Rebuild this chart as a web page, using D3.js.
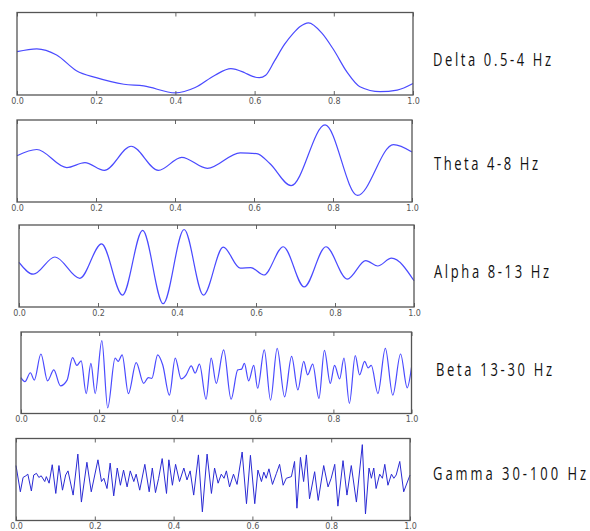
<!DOCTYPE html>
<html>
<head>
<meta charset="utf-8">
<title>EEG bands</title>
<script src="https://cdn.jsdelivr.net/npm/d3@7"></script>
<style>
  body { margin: 0; background: #fff; }
  .tick text { font-family: "DejaVu Sans", sans-serif; font-size: 8px; fill: #555; }
  .tick line { stroke: #666; }
  .band-label { font-family: "Open Sans", sans-serif; font-size: 18px; fill: #111; }
</style>
</head>
<body>
<script>
// time (s) and normalised amplitude
var deltaT = [0, 0.05, 0.10, 0.15, 0.20, 0.27, 0.32, 0.40, 0.45, 0.50, 0.54, 0.575, 0.595, 0.612, 0.628, 0.65, 0.675, 0.698, 0.715, 0.736, 0.77, 0.80, 0.833, 0.866, 0.917, 0.96, 1.0];
var deltaV = [0.05, 0.12, -0.03, -0.41, -0.58, -0.74, -0.78, -0.95, -0.82, -0.52, -0.36, -0.46, -0.55, -0.58, -0.52, -0.18, 0.22, 0.50, 0.66, 0.75, 0.50, 0.09, -0.44, -0.80, -0.92, -0.88, -0.72];

var thetaT = [0, 0.05, 0.126, 0.172, 0.221, 0.289, 0.358, 0.417, 0.482, 0.565, 0.607, 0.64, 0.694, 0.78, 0.862, 0.953, 1.0];
var thetaV = [0.13, 0.28, -0.16, -0.04, -0.23, 0.36, -0.23, 0.09, -0.18, 0.20, 0.18, -0.06, -0.60, 0.88, -0.84, 0.40, 0.22];

var alphaT = [0, 0.036, 0.091, 0.154, 0.209, 0.262, 0.313, 0.365, 0.418, 0.467, 0.517, 0.56, 0.587, 0.62, 0.669, 0.722, 0.777, 0.831, 0.878, 0.908, 0.943, 1.0];
var alphaV = [0.09, -0.20, 0.22, -0.30, 0.54, -0.71, 0.87, -0.92, 0.89, -0.71, 0.46, -0.05, -0.04, -0.22, 0.47, -0.51, 0.47, -0.32, 0.13, 0.00, 0.19, -0.36];

var betaT = [0, 0.010, 0.024, 0.034, 0.051, 0.068, 0.084, 0.101, 0.118, 0.132, 0.143, 0.154, 0.167, 0.179, 0.190, 0.207, 0.222, 0.241, 0.249, 0.259, 0.275, 0.295, 0.314, 0.326, 0.335, 0.350, 0.363, 0.380, 0.395, 0.410, 0.423, 0.436, 0.446, 0.457, 0.474, 0.487, 0.500, 0.519, 0.538, 0.555, 0.565, 0.572, 0.583, 0.596, 0.606, 0.623, 0.639, 0.656, 0.675, 0.693, 0.709, 0.724, 0.734, 0.747, 0.763, 0.777, 0.792, 0.803, 0.816, 0.827, 0.841, 0.856, 0.867, 0.880, 0.889, 0.897, 0.914, 0.933, 0.952, 0.972, 0.989, 1.0];
var betaV = [-0.12, -0.22, 0.00, -0.18, 0.46, -0.20, 0.07, -0.32, -0.18, 0.37, 0.18, 0.29, -0.51, 0.23, -0.51, 0.79, -0.86, 0.36, 0.28, 0.44, -0.51, 0.25, -0.26, -0.12, -0.14, 0.44, 0.19, -0.55, 0.36, -0.15, -0.05, 0.17, -0.01, 0.21, -0.65, 0.36, -0.26, 0.56, -0.65, 0.07, 0.09, 0.23, -0.20, 0.18, -0.38, 0.56, -0.67, 0.60, -0.59, 0.40, -0.42, 0.28, -0.05, 0.21, -0.63, 0.55, -0.26, 0.18, -0.15, 0.36, -0.75, 0.42, -0.05, 0.28, 0.12, 0.18, -0.51, 0.60, -0.55, 0.46, -0.37, 0.13];

var gammaT = [0, 0.011, 0.018, 0.025, 0.030, 0.039, 0.045, 0.052, 0.058, 0.064, 0.073, 0.077, 0.084, 0.092, 0.101, 0.109, 0.118, 0.126, 0.132, 0.145, 0.157, 0.166, 0.180, 0.191, 0.208, 0.217, 0.223, 0.231, 0.239, 0.248, 0.257, 0.265, 0.273, 0.282, 0.290, 0.299, 0.305, 0.314, 0.327, 0.338, 0.346, 0.354, 0.362, 0.371, 0.382, 0.388, 0.397, 0.405, 0.415, 0.426, 0.434, 0.442, 0.451, 0.463, 0.473, 0.485, 0.496, 0.504, 0.513, 0.521, 0.528, 0.534, 0.542, 0.552, 0.561, 0.574, 0.585, 0.595, 0.606, 0.614, 0.623, 0.629, 0.635, 0.642, 0.651, 0.661, 0.669, 0.678, 0.686, 0.699, 0.707, 0.713, 0.722, 0.730, 0.737, 0.745, 0.758, 0.767, 0.781, 0.792, 0.800, 0.809, 0.817, 0.830, 0.840, 0.851, 0.864, 0.879, 0.887, 0.896, 0.902, 0.908, 0.914, 0.923, 0.930, 0.936, 0.944, 0.953, 0.959, 0.965, 0.974, 0.984, 1.0];
var gammaV = [0.34, -0.30, 0.05, 0.09, 0.13, -0.28, 0.11, 0.15, 0.05, 0.09, -0.05, 0.07, -0.09, 0.36, -0.34, 0.34, -0.26, 0.11, 0.21, -0.38, 0.62, -0.55, 0.42, -0.30, 0.48, -0.05, 0.03, -0.22, 0.40, -0.40, 0.28, -0.14, 0.23, -0.18, 0.21, -0.05, 0.13, -0.26, 0.37, -0.30, 0.28, -0.32, 0.03, 0.51, -0.34, 0.48, -0.14, 0.37, -0.05, 0.28, -0.01, 0.21, -0.38, 0.60, -0.79, 0.62, -0.34, 0.28, -0.09, 0.13, 0.03, 0.21, -0.18, 0.13, -0.12, 0.67, -0.59, 0.59, -0.59, 0.23, -0.05, 0.18, 0.03, 0.26, -0.12, 0.15, 0.37, -0.14, 0.03, 0.07, 0.44, -0.70, 0.54, -0.05, 0.60, -0.47, 0.19, -0.51, 0.34, -0.18, 0.03, 0.37, -0.65, 0.46, -0.38, 0.34, -0.55, 0.85, -0.84, 0.28, 0.03, 0.28, -0.22, 0.13, 0.03, 0.37, -0.14, 0.13, 0.03, 0.11, 0.44, -0.30, 0.11];

var bandNames = ["Delta 0.5-4 Hz", "Theta 4-8 Hz", "Alpha 8-13 Hz", "Beta 13-30 Hz", "Gamma 30-100 Hz"];
var xTicks = [0, 0.2, 0.4, 0.6, 0.8, 1.0];

var series = [
  { t: deltaT, v: deltaV, smooth: true },
  { t: thetaT, v: thetaV, smooth: true },
  { t: alphaT, v: alphaV, smooth: true },
  { t: betaT, v: betaV, smooth: true },
  { t: gammaT, v: gammaV, smooth: false }
];

// where each panel sits in the picture (they are a bit out of line)
var boxes = [
  { l: 17, r: 413,   t: 12.5, b: 95,    lx: 433, ly: 66,    lw: 118 },
  { l: 17, r: 412,   t: 120,  b: 202,   lx: 434, ly: 170,   lw: 104 },
  { l: 19, r: 414,   t: 225,  b: 307,   lx: 434, ly: 277.5, lw: 115 },
  { l: 21, r: 411.5, t: 332,  b: 413.5, lx: 436, ly: 375.5, lw: 116 },
  { l: 16, r: 410,   t: 438.5, b: 520.5, lx: 433, ly: 480,  lw: 153 }
];
var squeeze = 0.72; // narrow glyphs of the label font

var width = 590, height = 531;

var svg = d3.select("body").append("svg")
  .attr("width", width)
  .attr("height", height);

series.forEach(function(s, i) {
  var box = boxes[i];
  var g = svg.append("g");

  var x = d3.scaleLinear().domain([0, 1]).range([box.l, box.r]);
  var y = d3.scaleLinear().domain([-1, 1]).range([box.b, box.t]);

  var pts = s.t.map(function(t, k) { return [t, s.v[k]]; });

  var line = d3.line()
    .x(function(d) { return x(d[0]); })
    .y(function(d) { return y(d[1]); })
    .curve(s.smooth ? d3.curveMonotoneX : d3.curveLinear);

  g.append("path")
    .datum(pts)
    .attr("fill", "none")
    .attr("stroke", s.smooth ? "#4a4aff" : "#2a2ad4")
    .attr("stroke-width", s.smooth ? 1.2 : 1)
    .attr("stroke-linejoin", "round")
    .attr("d", line);

  var bottom = d3.axisBottom(x).tickValues(xTicks).tickSize(-4).tickPadding(3)
    .tickFormat(d3.format(".1f"));
  var top = d3.axisTop(x).tickValues(xTicks).tickSize(-4).tickFormat("");

  g.append("g").attr("transform", "translate(0," + box.b + ")").call(bottom)
    .call(function(a) { a.select(".domain").remove(); });
  g.append("g").attr("transform", "translate(0," + box.t + ")").call(top)
    .call(function(a) { a.select(".domain").remove(); });

  g.append("rect")
    .attr("x", box.l).attr("y", box.t)
    .attr("width", box.r - box.l).attr("height", box.b - box.t)
    .attr("fill", "none")
    .attr("stroke", "#555")
    .attr("stroke-width", 1.3);

  g.append("text")
    .attr("class", "band-label")
    .attr("transform", "translate(" + box.lx + "," + box.ly + ") scale(" + squeeze + ",1)")
    .attr("textLength", box.lw / squeeze)
    .attr("lengthAdjust", "spacing")
    .text(bandNames[i]);
});
</script>
</body>
</html>
